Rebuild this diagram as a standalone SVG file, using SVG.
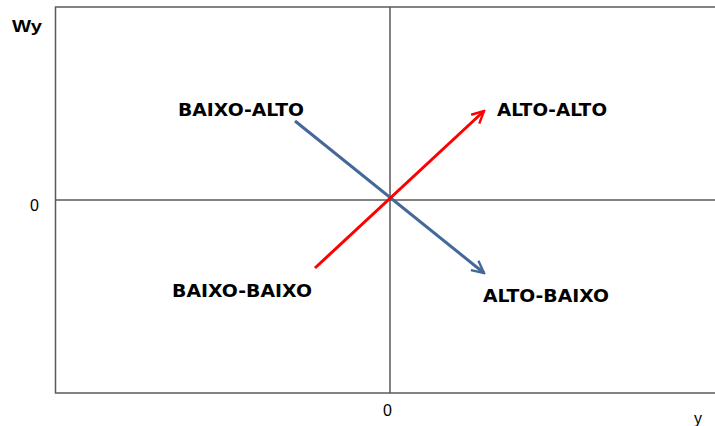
<svg xmlns="http://www.w3.org/2000/svg" width="715" height="426" viewBox="0 0 715 426">
<style>
.ax{stroke:#595959;stroke-width:1.5;fill:none}
.lbl{font-family:"DejaVu Sans","Liberation Sans",sans-serif;font-weight:bold;font-size:17px;fill:#000}
.num{font-family:"Liberation Sans",sans-serif;font-size:16px;fill:#000}
</style>
<defs>
<marker id="ab" viewBox="0 0 10 10" refX="9" refY="5" markerWidth="5" markerHeight="5" orient="auto" markerUnits="strokeWidth"><path d="M1,1 L9,5 L1,9" fill="none" stroke="#44689a" stroke-width="1.6"/></marker>
<marker id="ar" viewBox="0 0 10 10" refX="9" refY="5" markerWidth="5" markerHeight="5" orient="auto" markerUnits="strokeWidth"><path d="M1,1 L9,5 L1,9" fill="none" stroke="#ff0000" stroke-width="1.6"/></marker>
</defs>
<g id="axes">
<path class="ax" d="M715,7 H55.5 V393 H715"/>
<line class="ax" x1="390" y1="7" x2="390" y2="393"/>
<line class="ax" x1="55.5" y1="200" x2="715" y2="200"/>
<text class="num" x="12" y="32" font-size="18" font-weight="bold" textLength="30" lengthAdjust="spacingAndGlyphs">Wy</text>
<text class="num" x="30" y="211">0</text>
<text class="num" x="383" y="416">0</text>
<text class="num" x="694" y="424">y</text>
</g>
<g id="connectors">
<line x1="295" y1="121" x2="484" y2="273" stroke="#44689a" stroke-width="3" marker-end="url(#ab)"/>
<line x1="315" y1="268" x2="484" y2="111" stroke="#ff0000" stroke-width="3" marker-end="url(#ar)"/>
</g>
<g id="baixo-alto"><text class="lbl" x="178" y="116" textLength="126" lengthAdjust="spacingAndGlyphs">BAIXO-ALTO</text></g>
<g id="alto-alto"><text class="lbl" x="497" y="116" textLength="110" lengthAdjust="spacingAndGlyphs">ALTO-ALTO</text></g>
<g id="baixo-baixo"><text class="lbl" x="172" y="297" textLength="140" lengthAdjust="spacingAndGlyphs">BAIXO-BAIXO</text></g>
<g id="alto-baixo"><text class="lbl" x="483" y="302" textLength="126" lengthAdjust="spacingAndGlyphs">ALTO-BAIXO</text></g>
</svg>
